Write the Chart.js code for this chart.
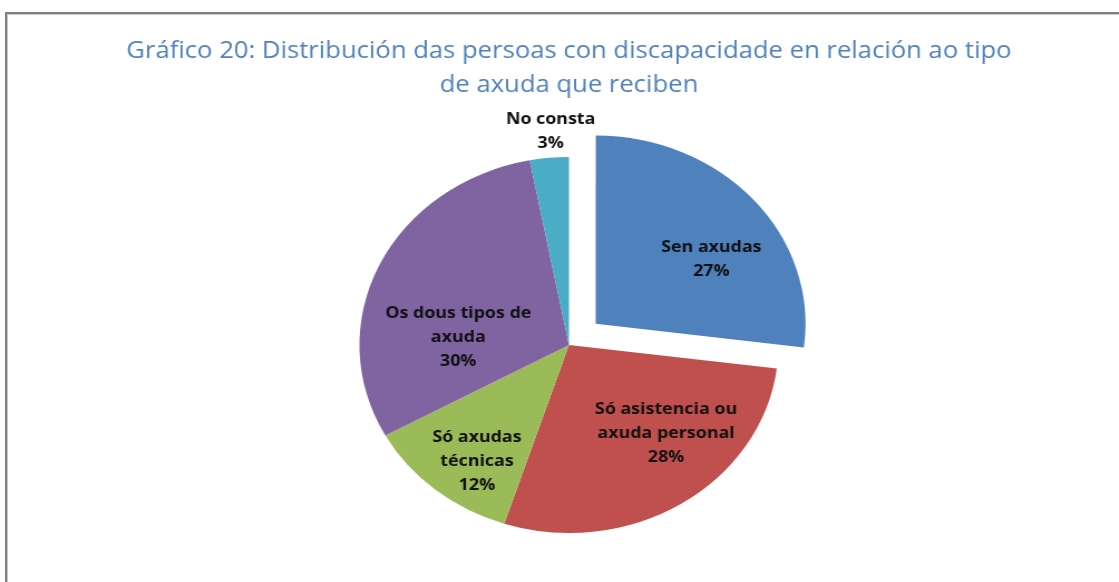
<!DOCTYPE html>
<html>
<head>
<meta charset="utf-8">
<script src="https://cdn.jsdelivr.net/npm/chart.js@4.4.1/dist/chart.umd.min.js"></script>
<style>
  html, body { margin: 0; padding: 0; background: #fff; overflow: hidden; }
  body { width: 1119px; height: 582px; position: relative; }
  #frame {
    position: absolute; left: 5px; top: 12px; right: -4px; bottom: -4px;
    border-left: 2px solid #808080; border-top: 2px solid #808080;
    box-shadow: inset 1px 1px 0 #c8c8c8;
  }
  #wrap {
    position: absolute; left: 0; top: 0; width: 1004px; height: 582px;
    transform: scaleX(1.1145); transform-origin: 0 0;
  }
</style>
</head>
<body>
<div id="frame"></div>
<div id="wrap"><canvas id="chart" width="1004" height="582"></canvas></div>
<script>
// Slices, clockwise from twelve o'clock
const categories = [
  ['Sen axudas'],
  ['Só asistencia ou', 'axuda personal'],
  ['Só axudas', 'técnicas'],
  ['Os dous tipos de', 'axuda'],
  ['No consta']
];
const values = [27, 28, 12, 30, 3];
const sliceColors = ['#4f81bd', '#c0504d', '#9bbb59', '#8064a2', '#4bacc6'];
const titleLines = [
  'Gráfico 20: Distribución das persoas con discapacidade en relación ao tipo',
  'de axuda que reciben'
];

// Writes "name / value%" inside (or just outside) each slice
const sliceLabels = {
  id: 'sliceLabels',
  afterDatasetsDraw(chart, args, opts) {
    const ctx = chart.ctx;
    const meta = chart.getDatasetMeta(0);
    ctx.save();
    ctx.font = opts.font;
    ctx.fillStyle = opts.color;
    ctx.textAlign = 'center';
    ctx.textBaseline = 'middle';
    meta.data.forEach((arc, i) => {
      const p = arc.getProps(['x', 'y', 'startAngle', 'endAngle', 'outerRadius'], true);
      const place = opts.placement[i];
      const mid = (p.startAngle + p.endAngle) / 2;
      const shift = (arc.options.offset || 0) / 4;
      const a = mid + place.turn * Math.PI / 180;
      const cx = p.x + Math.cos(mid) * shift + Math.cos(a) * p.outerRadius * place.r;
      const cy = p.y + Math.sin(mid) * shift + Math.sin(a) * p.outerRadius * place.r;
      const lines = categories[i].concat(values[i] + '%');
      lines.forEach((t, k) => {
        ctx.fillText(t, cx, cy + (k - (lines.length - 1) / 2) * opts.lineHeight);
      });
    });
    ctx.restore();
  }
};

new Chart(document.getElementById('chart'), {
  type: 'pie',
  data: {
    labels: categories.map(c => c.join(' ')),
    datasets: [{
      data: values,
      backgroundColor: sliceColors,
      borderWidth: 0,
      offset: [128, 0, 0, 0, 0],
      radius: 188
    }]
  },
  options: {
    responsive: false,
    animation: false,
    layout: { padding: { left: 17, right: 0, top: 0, bottom: 2 } },
    plugins: {
      legend: { display: false },
      tooltip: { enabled: false },
      title: {
        display: true,
        text: titleLines,
        color: '#4f81bd',
        font: { family: '"Open Sans", sans-serif', size: 23, weight: 'normal', lineHeight: 34 / 23 },
        padding: { top: 34, bottom: 8 }
      },
      sliceLabels: {
        font: 'bold 16px "Open Sans", sans-serif',
        color: '#111111',
        lineHeight: 24,
        placement: [
          { r: 0.65, turn: 9.5 },
          { r: 0.66, turn: -12.2 },
          { r: 0.76, turn: -4.3 },
          { r: 0.53, turn: -20.6 },
          { r: 1.14, turn: 1.0 }
        ]
      }
    }
  },
  plugins: [sliceLabels]
});
</script>
</body>
</html>
